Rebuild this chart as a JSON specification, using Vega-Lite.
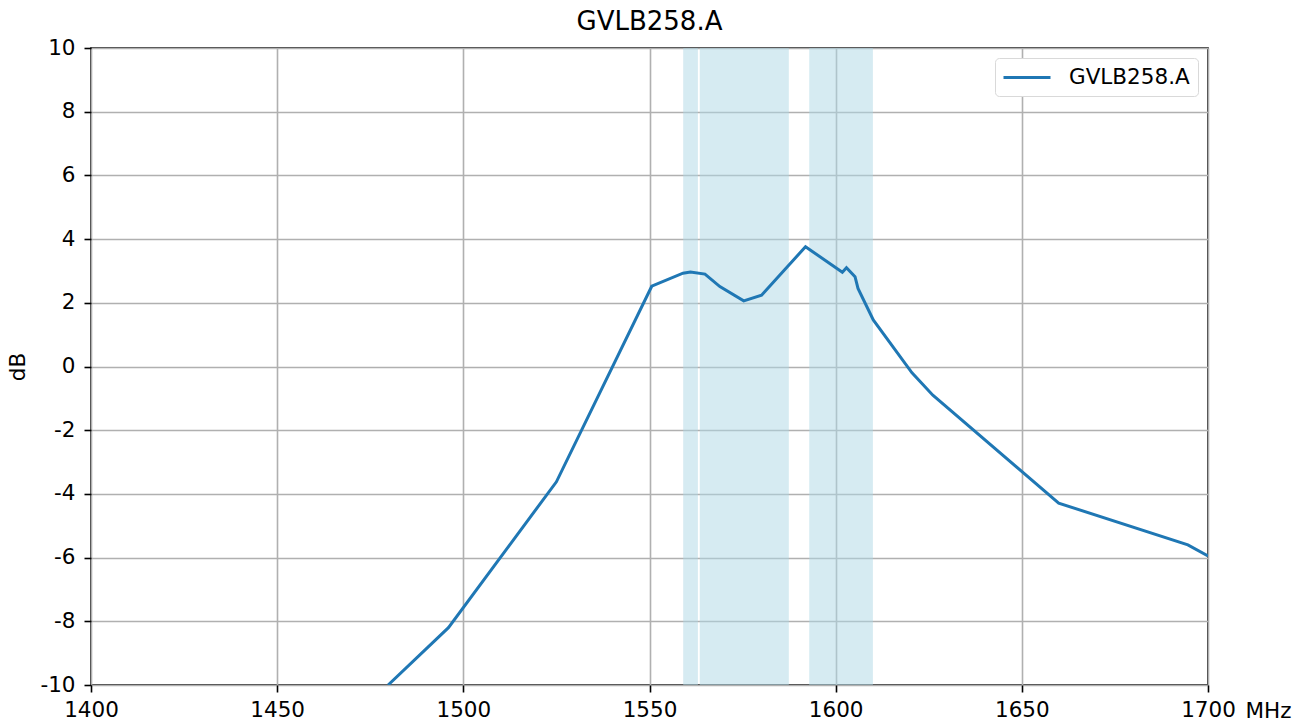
{
  "$schema": "https://vega.github.io/schema/vega-lite/v6.json",
  "width": 1117,
  "height": 637,
  "autosize": {"type": "none"},
  "padding": {"left": 91, "top": 48, "right": 99, "bottom": 37},
  "background": "white",
  "title": {"text": "GVLB258.A", "fontSize": 26, "font": "DejaVu Sans", "fontWeight": "normal", "color": "black", "offset": 2},
  "config": {
    "view": {"stroke": "black", "strokeWidth": 1.6},
    "font": "DejaVu Sans",
    "axis": {
      "labelFont": "DejaVu Sans", "labelFontSize": 21.5, "labelColor": "black",
      "titleFont": "DejaVu Sans", "titleFontSize": 21.5, "titleColor": "black", "titleFontWeight": "normal",
      "grid": true, "gridColor": "#b0b0b0", "gridWidth": 1.6,
      "domain": false, "tickColor": "black", "tickWidth": 1.6, "tickSize": 7, "labelFlush": false
    }
  },
  "datasets": {
    "bands": [
      {"start": 1559.05, "end": 1563.0},
      {"start": 1563.5, "end": 1587.42},
      {"start": 1592.9, "end": 1610.0}
    ],
    "curve": [
      {"series": "GVLB258.A", "freq": 1479.8, "db": -10.0},
      {"series": "GVLB258.A", "freq": 1496.0, "db": -8.2},
      {"series": "GVLB258.A", "freq": 1525.0, "db": -3.62},
      {"series": "GVLB258.A", "freq": 1550.6, "db": 2.52},
      {"series": "GVLB258.A", "freq": 1559.0, "db": 2.93},
      {"series": "GVLB258.A", "freq": 1561.0, "db": 2.97},
      {"series": "GVLB258.A", "freq": 1564.9, "db": 2.9},
      {"series": "GVLB258.A", "freq": 1568.9, "db": 2.51},
      {"series": "GVLB258.A", "freq": 1575.3, "db": 2.06},
      {"series": "GVLB258.A", "freq": 1580.1, "db": 2.24},
      {"series": "GVLB258.A", "freq": 1591.9, "db": 3.76},
      {"series": "GVLB258.A", "freq": 1601.8, "db": 2.96},
      {"series": "GVLB258.A", "freq": 1602.9, "db": 3.1},
      {"series": "GVLB258.A", "freq": 1605.2, "db": 2.82},
      {"series": "GVLB258.A", "freq": 1606.0, "db": 2.45},
      {"series": "GVLB258.A", "freq": 1610.1, "db": 1.46},
      {"series": "GVLB258.A", "freq": 1620.5, "db": -0.2},
      {"series": "GVLB258.A", "freq": 1626.1, "db": -0.9},
      {"series": "GVLB258.A", "freq": 1659.9, "db": -4.29},
      {"series": "GVLB258.A", "freq": 1694.6, "db": -5.6},
      {"series": "GVLB258.A", "freq": 1700.0, "db": -5.95}
    ]
  },
  "layer": [
    {
      "data": {"name": "bands"},
      "mark": {"type": "rect", "color": "#add8e6", "opacity": 0.5},
      "encoding": {
        "x": {"field": "start", "type": "quantitative", "scale": {"domain": [1400, 1700], "nice": false, "zero": false}},
        "x2": {"field": "end"}
      }
    },
    {
      "data": {"name": "curve"},
      "mark": {"type": "line", "strokeWidth": 3, "clip": true},
      "encoding": {
        "x": {
          "field": "freq", "type": "quantitative",
          "scale": {"domain": [1400, 1700], "nice": false, "zero": false},
          "axis": {"values": [1400, 1450, 1500, 1550, 1600, 1650, 1700], "format": "d", "labelPadding": 7,
                   "title": "MHz", "titleX": 1154, "titleY": 32, "titleAlign": "left", "titleBaseline": "alphabetic", "titleAngle": 0}
        },
        "y": {
          "field": "db", "type": "quantitative",
          "scale": {"domain": [-10, 10], "nice": false, "zero": false},
          "axis": {"values": [-10, -8, -6, -4, -2, 0, 2, 4, 6, 8, 10], "labelExpr": "'' + datum.value", "labelPadding": 9, "title": "dB", "titlePadding": 10}
        },
        "color": {
          "field": "series", "type": "nominal",
          "scale": {"range": ["#1f77b4"]},
          "legend": {
            "title": null, "orient": "top-right", "offset": 10,
            "symbolType": "M-2.35,0L2.35,0", "symbolSize": 400, "symbolStrokeWidth": 3, "symbolStrokeColor": "#1f77b4",
            "symbolOffset": 12.5,
            "labelFont": "DejaVu Sans", "labelFontSize": 21.5, "labelColor": "black",
            "strokeColor": "#d9d9d9", "fillColor": "white", "cornerRadius": 4, "padding": 8,
            "labelOffset": 30.5
          }
        }
      }
    }
  ]
}
